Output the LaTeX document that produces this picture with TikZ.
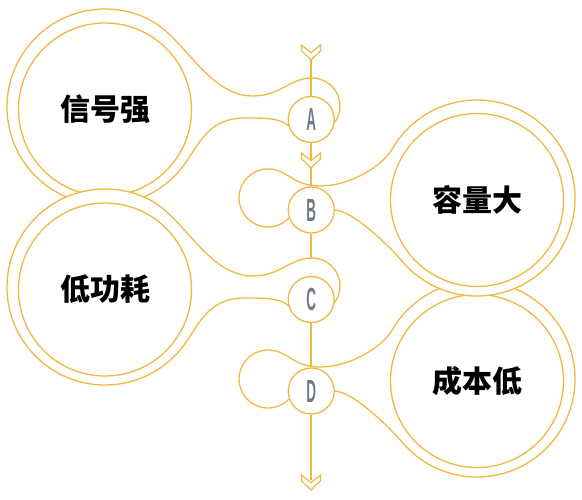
\documentclass[tikz,border=0pt]{standalone}
\usepackage{fontspec}
\usepackage{graphicx}
\newfontfamily\cjk{Noto Sans CJK SC}
\newfontfamily\lfont{Liberation Sans}
\definecolor{gold}{RGB}{240,184,66}
\definecolor{lettergray}{RGB}{112,122,134}
\newcommand\ltr[1]{\scalebox{0.42}[1]{\fontsize{32bp}{32bp}\selectfont\lfont\bfseries #1}}
\begin{document}
\begin{tikzpicture}[x=1bp,y=1bp,yscale=-1,
  gline/.style={draw=gold, line width=1.3bp},
  axisline/.style={draw=gold, line width=1.7bp},
  innerc/.style={circle, draw=gold, line width=1.3bp, minimum size=173bp, inner sep=0pt,
    font={\cjk\bfseries\fontsize{30bp}{30bp}\selectfont}, text=black},
  smallc/.style={circle, draw=gold, fill=white, line width=1.3bp, minimum size=46bp, inner sep=0pt, text=lettergray},
  chev/.style={draw=gold, fill=white, line width=1.2bp, line join=miter}]
\useasboundingbox (0,0) rectangle (582,500);

% left blocks: 信号强 (under) and 低功耗 (over)
\foreach \dy/\txt/\nm in {0/信号强/sig, 180/低功耗/pow}{
  \fill[white] (105,107+\dy) circle[radius=98];
  \node[innerc] (\nm) at (105,109.5+\dy) {\txt};
  \draw[gline] (289.6,126.7+\dy) .. controls (281,118+\dy) and (266,118+\dy) .. (245,118+\dy)
    .. controls (205,118+\dy) and (198.1,148.5+\dy) .. (180.07,169.99+\dy)
    arc[start angle=40, end angle=297, radius=98]
    .. controls (185.1,37.9+\dy) and (208,96+\dy) .. (253,96+\dy)
    .. controls (280,96+\dy) and (290,78+\dy) .. (312,78+\dy)
    arc[start angle=-90, end angle=38, radius=28];
}

% right blocks: 成本低 (under) and 容量大 (over)
\foreach \dy/\txt/\nm in {181/成本低/cost, 0/容量大/cap}{
  \fill[white] (477,198+\dy) circle[radius=98];
  \node[innerc] (\nm) at (477,200+\dy) {\txt};
  \draw[gline] (334.5,210+\dy) .. controls (352,210+\dy) and (389,245.7+\dy) .. (401.93,260.99+\dy)
    arc[start angle=140, end angle=-150, radius=98]
    .. controls (382.13,166.3+\dy) and (350,186+\dy) .. (320,186+\dy)
    .. controls (292,186+\dy) and (288,169+\dy) .. (268,169+\dy)
    arc[start angle=-90, end angle=-316, radius=29];
}

% small letter circles
\node[smallc] (A) at (311.2,119.5) {\ltr{A}};
\node[smallc] (B) at (311.2,210) {\ltr{B}};
\node[smallc] (C) at (311.2,299.5) {\ltr{C}};
\node[smallc] (D) at (311.2,391) {\ltr{D}};

% vertical axis
\coordinate (topend) at (311,58);
\coordinate (cloop) at (311,258);
\coordinate (botend) at (311,480);
\draw[axisline] (topend) -- (topend |- A.north);
\draw[axisline] (topend |- A.south) -- (topend |- B.north);
\draw[axisline] (topend |- B.south) -- (cloop);
\draw[axisline] (topend |- C.south) -- (topend |- D.north);
\draw[axisline] (topend |- D.south) -- (botend);

% chevrons
\foreach \cy in {45,153,475}{
  \draw[chev] (301.5,\cy) -- (311,\cy+7.7) -- (320.5,\cy) -- (320.5,\cy+5.7)
    -- (311,\cy+15) -- (301.5,\cy+5.7) -- cycle;
}
\end{tikzpicture}
\end{document}
